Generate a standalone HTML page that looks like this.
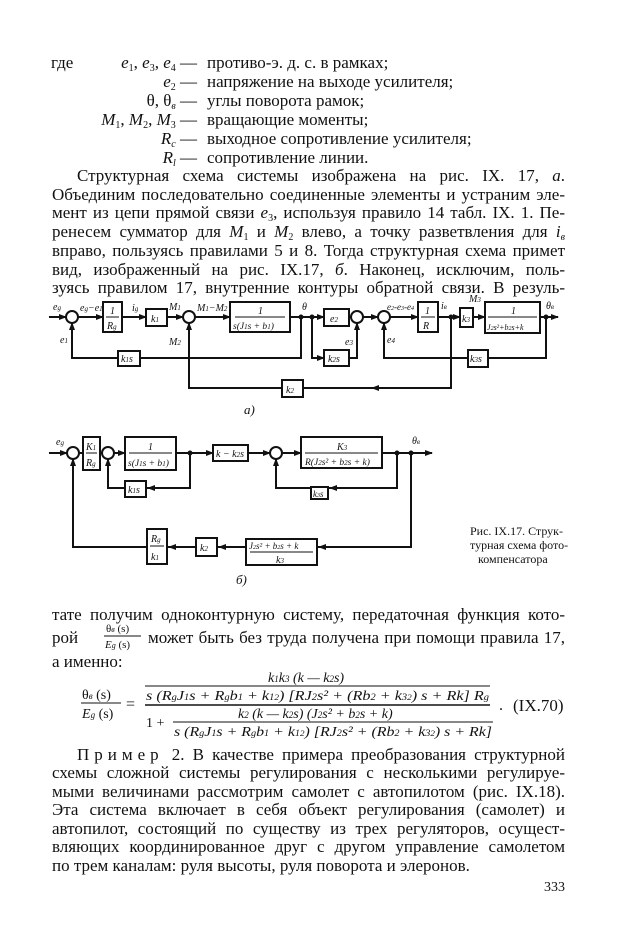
<!DOCTYPE html>
<html><head><meta charset="utf-8">
<style>
body{margin:0;background:#fff;}
#p{position:relative;width:620px;height:950px;overflow:hidden;background:#fff;color:#111;font-family:"Liberation Serif",serif;}
.l{position:absolute;left:52px;width:513px;font-size:17px;line-height:20px;height:20px;white-space:nowrap;text-align:justify;text-align-last:justify;}
.nl{text-align-last:left;}
.t{position:absolute;font-size:17px;line-height:20px;white-space:nowrap;}
i{font-style:italic;}
sub{font-size:10px;vertical-align:-3px;line-height:0;}
sup{font-size:10px;vertical-align:6px;line-height:0;}
svg{position:absolute;left:0;top:0;}
svg text{font-family:"Liberation Serif",serif;font-style:italic;fill:#111;}
</style></head><body><div id="p">

<div class="t" style="left:51px;top:53px">где</div>
<div class="t" style="left:105px;top:53px;width:92px;text-align:right"><i>e</i><sub>1</sub>, <i>e</i><sub>3</sub>, <i>e</i><sub>4</sub> —</div>
<div class="t" style="left:207px;top:53px">противо-э. д. с. в рамках;</div>
<div class="t" style="left:105px;top:72px;width:92px;text-align:right"><i>e</i><sub>2</sub> —</div>
<div class="t" style="left:207px;top:72px">напряжение на выходе усилителя;</div>
<div class="t" style="left:105px;top:91px;width:92px;text-align:right">θ, θ<sub><i>в</i></sub> —</div>
<div class="t" style="left:207px;top:91px">углы поворота рамок;</div>
<div class="t" style="left:75px;top:110px;width:122px;text-align:right"><i>M</i><sub>1</sub>, <i>M</i><sub>2</sub>, <i>M</i><sub>3</sub> —</div>
<div class="t" style="left:207px;top:110px">вращающие моменты;</div>
<div class="t" style="left:105px;top:129px;width:92px;text-align:right"><i>R<sub>c</sub></i> —</div>
<div class="t" style="left:207px;top:129px">выходное сопротивление усилителя;</div>
<div class="t" style="left:105px;top:148px;width:92px;text-align:right"><i>R<sub>l</sub></i> —</div>
<div class="t" style="left:207px;top:148px">сопротивление линии.</div>

<div class="l" style="top:166px;left:77px;width:488px">Структурная схема системы изображена на рис. IX. 17, <i>а</i>.</div>
<div class="l" style="top:185px">Объединим последовательно соединенные элементы и устраним эле-</div>
<div class="l" style="top:203px">мент из цепи прямой связи <i>e</i><sub>3</sub>, используя правило 14 табл. IX. 1. Пе-</div>
<div class="l" style="top:222px">ренесем сумматор для <i>M</i><sub>1</sub> и <i>M</i><sub>2</sub> влево, а точку разветвления для <i>i<sub>в</sub></i></div>
<div class="l" style="top:241px">вправо, пользуясь правилами 5 и 8. Тогда структурная схема примет</div>
<div class="l" style="top:260px">вид, изображенный на рис. IX.17, <i>б</i>. Наконец, исключим, поль-</div>
<div class="l" style="top:278px">зуясь правилом 17, внутренние контуры обратной связи. В резуль-</div>

<svg width="620" height="950" viewBox="0 0 620 950">
<defs><marker id="a" markerWidth="8" markerHeight="6" refX="7" refY="3" orient="auto" markerUnits="userSpaceOnUse"><path d="M0,0 L8,3 L0,6 z" fill="#111"/></marker></defs>
<g stroke="#111" stroke-width="2" fill="none">
<line x1="49" y1="317" x2="66" y2="317" marker-end="url(#a)"/>
<circle cx="72" cy="317" r="6"/>
<line x1="78" y1="317" x2="103" y2="317" marker-end="url(#a)"/>
<rect x="103" y="302" width="19" height="30"/>
<line x1="122" y1="317" x2="146" y2="317" marker-end="url(#a)"/>
<rect x="146" y="309" width="21" height="17"/>
<line x1="167" y1="317" x2="183" y2="317" marker-end="url(#a)"/>
<circle cx="189" cy="317" r="6"/>
<line x1="195" y1="317" x2="230" y2="317" marker-end="url(#a)"/>
<rect x="230" y="302" width="60" height="30"/>
<line x1="290" y1="317" x2="324" y2="317" marker-end="url(#a)"/>
<rect x="324" y="309" width="25" height="17"/>
<line x1="349" y1="317" x2="351" y2="317"/>
<circle cx="357" cy="317" r="6"/>
<line x1="363" y1="317" x2="378" y2="317" marker-end="url(#a)"/>
<circle cx="384" cy="317" r="6"/>
<line x1="390" y1="317" x2="418" y2="317" marker-end="url(#a)"/>
<rect x="418" y="302" width="20" height="30"/>
<line x1="438" y1="317" x2="460" y2="317" marker-end="url(#a)"/>
<rect x="460" y="308" width="13" height="19"/>
<line x1="473" y1="317" x2="485" y2="317" marker-end="url(#a)"/>
<rect x="485" y="302" width="55" height="31"/>
<line x1="540" y1="317" x2="558" y2="317" marker-end="url(#a)"/>
<polyline points="301,317 301,358 72,358 72,323" marker-end="url(#a)"/>
<polyline points="312,317 312,358 324,358" marker-end="url(#a)"/>
<polyline points="349,358 357,358 357,323" marker-end="url(#a)"/>
<polyline points="546,317 546,358 384,358 384,323" marker-end="url(#a)"/>
<polyline points="451,317 451,388 189,388 189,323" marker-end="url(#a)"/>
<line x1="380" y1="388" x2="372" y2="388" marker-end="url(#a)"/>
<rect x="118" y="351" width="22" height="15" fill="#fff"/>
<rect x="324" y="350" width="25" height="16" fill="#fff"/>
<rect x="468" y="350" width="20" height="17" fill="#fff"/>
<rect x="282" y="380" width="21" height="17" fill="#fff"/>
<line x1="49" y1="453" x2="67" y2="453" marker-end="url(#a)"/>
<circle cx="73" cy="453" r="6"/>
<line x1="79" y1="453" x2="83" y2="453"/>
<rect x="83" y="437" width="17" height="33"/>
<line x1="100" y1="453" x2="102" y2="453"/>
<circle cx="108" cy="453" r="6"/>
<line x1="114" y1="453" x2="125" y2="453" marker-end="url(#a)"/>
<rect x="125" y="437" width="51" height="33"/>
<line x1="176" y1="453" x2="213" y2="453" marker-end="url(#a)"/>
<rect x="213" y="445" width="35" height="16"/>
<line x1="248" y1="453" x2="270" y2="453" marker-end="url(#a)"/>
<circle cx="276" cy="453" r="6"/>
<line x1="282" y1="453" x2="301" y2="453" marker-end="url(#a)"/>
<rect x="301" y="437" width="81" height="31"/>
<line x1="382" y1="453" x2="432" y2="453" marker-end="url(#a)"/>
<polyline points="190,453 190,488 108,488 108,459" marker-end="url(#a)"/>
<line x1="165" y1="488" x2="148" y2="488" marker-end="url(#a)"/>
<polyline points="397,453 397,488 276,488 276,459" marker-end="url(#a)"/>
<line x1="350" y1="488" x2="330" y2="488" marker-end="url(#a)"/>
<polyline points="411,453 411,547 73,547 73,459" marker-end="url(#a)"/>
<line x1="340" y1="547" x2="319" y2="547" marker-end="url(#a)"/>
<line x1="235" y1="547" x2="219" y2="547" marker-end="url(#a)"/>
<line x1="185" y1="547" x2="169" y2="547" marker-end="url(#a)"/>
<rect x="125" y="481" width="21" height="16" fill="#fff"/>
<rect x="311" y="487" width="17" height="12" fill="#fff"/>
<rect x="246" y="539" width="71" height="26" fill="#fff"/>
<rect x="196" y="538" width="21" height="18" fill="#fff"/>
<rect x="147" y="529" width="20" height="35" fill="#fff"/>
</g>
<g fill="#111">
<circle cx="301" cy="317" r="2.5"/><circle cx="312" cy="317" r="2.5"/><circle cx="451" cy="317" r="2.5"/><circle cx="546" cy="317" r="2.5"/>
<circle cx="190" cy="453" r="2.5"/><circle cx="397" cy="453" r="2.5"/><circle cx="411" cy="453" r="2.5"/>
</g>
<g stroke="#111" stroke-width="1">
<line x1="106" y1="317" x2="119" y2="317"/><line x1="235" y1="317" x2="285" y2="317"/>
<line x1="421" y1="317" x2="435" y2="317"/><line x1="488" y1="317" x2="537" y2="317"/>
<line x1="86" y1="453" x2="97" y2="453"/><line x1="129" y1="453" x2="172" y2="453"/>
<line x1="305" y1="453" x2="378" y2="453"/><line x1="250" y1="552" x2="313" y2="552"/>
<line x1="150" y1="546" x2="164" y2="546"/>
</g>
<g font-size="10">
<text x="53" y="310">e<tspan font-size="7">g</tspan></text>
<text x="80" y="311">e<tspan font-size="7">g</tspan>−e<tspan font-size="7">1</tspan></text>
<text x="110" y="314" font-style="normal">1</text>
<text x="107" y="329">R<tspan font-size="7">g</tspan></text>
<text x="132" y="311">i<tspan font-size="7">g</tspan></text>
<text x="151" y="322">k<tspan font-size="7">1</tspan></text>
<text x="169" y="310">M<tspan font-size="7">1</tspan></text>
<text x="197" y="311">M<tspan font-size="7">1</tspan>−M<tspan font-size="7">2</tspan></text>
<text x="258" y="314" font-style="normal">1</text>
<text x="233" y="329" font-size="9.5">s(J<tspan font-size="7">1</tspan>s + b<tspan font-size="7">1</tspan>)</text>
<text x="302" y="310">θ</text>
<text x="330" y="322">e<tspan font-size="7">2</tspan></text>
<text x="387" y="310" font-size="9">e<tspan font-size="6">2</tspan>-e<tspan font-size="6">3</tspan>-e<tspan font-size="6">4</tspan></text>
<text x="425" y="314" font-style="normal">1</text>
<text x="423" y="329">R</text>
<text x="441" y="309">i<tspan font-size="7">в</tspan></text>
<text x="462" y="322">k<tspan font-size="7">3</tspan></text>
<text x="469" y="302">M<tspan font-size="7">3</tspan></text>
<text x="511" y="314" font-style="normal">1</text>
<text x="487" y="330" font-size="8">J<tspan font-size="6">2</tspan>s²+b<tspan font-size="6">2</tspan>s+k</text>
<text x="546" y="309">θ<tspan font-size="7">в</tspan></text>
<text x="60" y="343">e<tspan font-size="7">1</tspan></text>
<text x="169" y="345">M<tspan font-size="7">2</tspan></text>
<text x="345" y="345">e<tspan font-size="7">3</tspan></text>
<text x="387" y="343">e<tspan font-size="7">4</tspan></text>
<text x="121" y="362">k<tspan font-size="7">1</tspan>s</text>
<text x="328" y="362">k<tspan font-size="7">2</tspan>s</text>
<text x="470" y="362">k<tspan font-size="7">3</tspan>s</text>
<text x="286" y="393">k<tspan font-size="7">2</tspan></text>
<text x="244" y="414" font-size="13">a)</text>
<text x="56" y="445">e<tspan font-size="7">g</tspan></text>
<text x="86" y="450">K<tspan font-size="7">1</tspan></text>
<text x="86" y="466">R<tspan font-size="7">g</tspan></text>
<text x="148" y="450" font-style="normal">1</text>
<text x="128" y="466" font-size="9.5">s(J<tspan font-size="7">1</tspan>s + b<tspan font-size="7">1</tspan>)</text>
<text x="216" y="457">k − k<tspan font-size="7">2</tspan>s</text>
<text x="337" y="450">K<tspan font-size="7">3</tspan></text>
<text x="305" y="465" font-size="9.5">R(J<tspan font-size="7">2</tspan>s² + b<tspan font-size="7">2</tspan>s + k)</text>
<text x="412" y="444">θ<tspan font-size="7">в</tspan></text>
<text x="128" y="493">k<tspan font-size="7">1</tspan>s</text>
<text x="313" y="497" font-size="9">k<tspan font-size="6">3</tspan>s</text>
<text x="249" y="549" font-size="9">J<tspan font-size="6">2</tspan>s² + b<tspan font-size="6">2</tspan>s + k</text>
<text x="276" y="563">k<tspan font-size="7">3</tspan></text>
<text x="200" y="551">k<tspan font-size="7">2</tspan></text>
<text x="151" y="542">R<tspan font-size="7">g</tspan></text>
<text x="151" y="560">k<tspan font-size="7">1</tspan></text>
<text x="236" y="584" font-size="13">б)</text>
</g>
<g font-size="12">
<text x="470" y="535" style="font-style:normal">Рис. IX.17. Струк-</text>
<text x="470" y="549" style="font-style:normal">турная схема фото-</text>
<text x="478" y="563" style="font-style:normal">компенсатора</text>
</g>
<g stroke="#111">
<line x1="81" y1="703" x2="121" y2="703" stroke-width="1"/>
<line x1="145" y1="686" x2="490" y2="686" stroke-width="1"/>
<line x1="145" y1="705" x2="490" y2="705" stroke-width="1.5"/>
<line x1="173" y1="722" x2="493" y2="722" stroke-width="1"/>
<line x1="104" y1="636" x2="141" y2="636" stroke-width="1"/>
</g>
<g font-size="14">
<text x="82" y="699" style="font-style:normal">θ<tspan font-style="italic" font-size="9">в</tspan> (s)</text>
<text x="82" y="718" style="font-style:normal"><tspan font-style="italic">E<tspan font-size="9">g</tspan></tspan> (s)</text>
<text x="126" y="709" style="font-style:normal" font-size="16">=</text>
<text x="268" y="682" style="font-style:italic">k<tspan font-size="9">1</tspan>k<tspan font-size="9">3</tspan> (k — k<tspan font-size="9">2</tspan>s)</text>
<text x="146" y="700" style="font-style:italic" textLength="343" lengthAdjust="spacingAndGlyphs">s (R<tspan font-size="9">g</tspan>J<tspan font-size="9">1</tspan>s + R<tspan font-size="9">g</tspan>b<tspan font-size="9">1</tspan> + k<tspan font-size="9">1</tspan><tspan font-size="8">2</tspan>) [RJ<tspan font-size="9">2</tspan>s² + (Rb<tspan font-size="9">2</tspan> + k<tspan font-size="9">3</tspan><tspan font-size="8">2</tspan>) s + Rk] R<tspan font-size="9">g</tspan></text>
<text x="146" y="727" style="font-style:normal">1 +</text>
<text x="238" y="718" style="font-style:italic">k<tspan font-size="9">2</tspan> (k — k<tspan font-size="9">2</tspan>s) (J<tspan font-size="9">2</tspan>s² + b<tspan font-size="9">2</tspan>s + k)</text>
<text x="174" y="736" style="font-style:italic" textLength="318" lengthAdjust="spacingAndGlyphs">s (R<tspan font-size="9">g</tspan>J<tspan font-size="9">1</tspan>s + R<tspan font-size="9">g</tspan>b<tspan font-size="9">1</tspan> + k<tspan font-size="9">1</tspan><tspan font-size="8">2</tspan>) [RJ<tspan font-size="9">2</tspan>s² + (Rb<tspan font-size="9">2</tspan> + k<tspan font-size="9">3</tspan><tspan font-size="8">2</tspan>) s + Rk]</text>
<text x="499" y="710" style="font-style:normal" font-size="16">.</text>
<text x="513" y="711" style="font-style:normal" font-size="17">(IX.70)</text>
<text x="106" y="632" style="font-style:normal" font-size="11">θ<tspan font-style="italic" font-size="8">в</tspan> (s)</text>
<text x="105" y="648" style="font-style:normal" font-size="11"><tspan font-style="italic">E<tspan font-size="8">g</tspan></tspan> (s)</text>
</g>
</svg>

<div class="l" style="top:605px">тате получим одноконтурную систему, передаточная функция кото-</div>
<div class="t" style="left:52px;top:628px">рой</div>
<div class="l" style="top:628px;left:148px;width:417px">может быть без труда получена при помощи правила 17,</div>
<div class="t" style="left:52px;top:652px">а именно:</div>

<div class="l" style="top:745px;left:77px;width:488px"><span style="letter-spacing:5px">Пример</span> 2. В качестве примера преобразования структурной</div>
<div class="l" style="top:763px">схемы сложной системы регулирования с несколькими регулируе-</div>
<div class="l" style="top:782px">мыми величинами рассмотрим самолет с автопилотом (рис. IX.18).</div>
<div class="l" style="top:800px">Эта система включает в себя объект регулирования (самолет) и</div>
<div class="l" style="top:819px">автопилот, состоящий по существу из трех регуляторов, осущест-</div>
<div class="l" style="top:837px">вляющих координированное друг с другом управление самолетом</div>
<div class="l nl" style="top:856px">по трем каналам: руля высоты, руля поворота и элеронов.</div>
<div class="t" style="left:544px;top:878px;font-size:14px">333</div>

</div></body></html>
